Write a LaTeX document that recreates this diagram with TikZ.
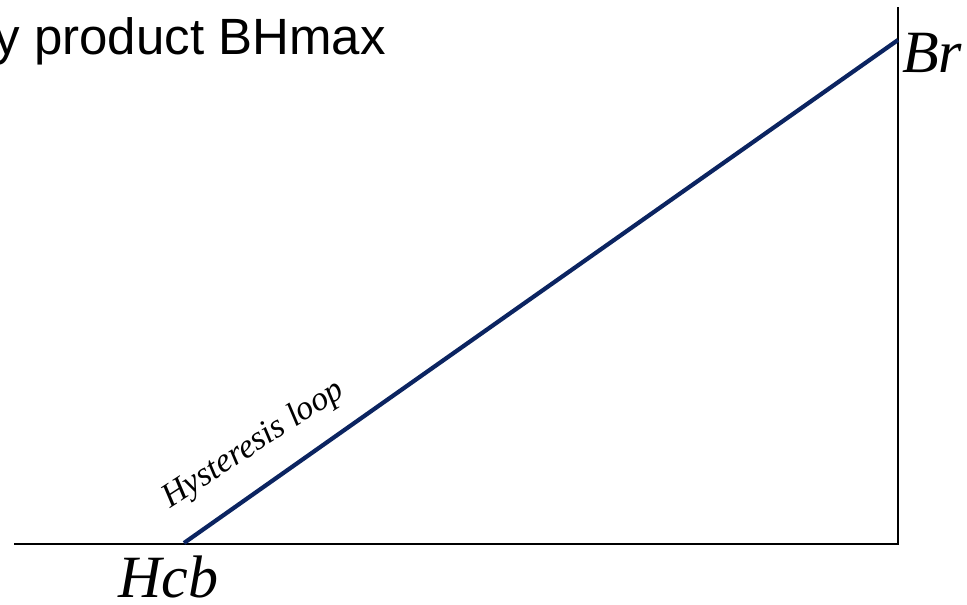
\documentclass[tikz,border=0pt]{standalone}
\usepackage{fontspec}
\setmainfont{Liberation Serif}
\newfontfamily\arialfont{Liberation Sans}
\definecolor{loopblue}{HTML}{0B2461}
\begin{document}
\begin{tikzpicture}[x=1pt,y=1pt,
  axisline/.style={draw=black,line width=1.6pt},
  curveline/.style={draw=loopblue,line width=4.2pt},
  titletext/.style={inner sep=0pt,font=\arialfont\fontsize{51}{60}\selectfont},
  pointlabel/.style={inner sep=0pt,font=\itshape\fontsize{60}{70}\selectfont},
  looplabel/.style={inner sep=0pt,font=\itshape\fontsize{34}{40}\selectfont}]
\useasboundingbox (0,0) rectangle (967,605);
\clip (0,0) rectangle (967,605);
\coordinate (O) at (14,61);
\coordinate (C) at (898,61);
\coordinate (T) at (898,598);
\coordinate (Hc) at (184,62);
\coordinate (Bpt) at (898,565);
\draw[axisline] (O) -- (C) -- (T);
\draw[curveline] (Hc) -- (Bpt);
\node[titletext,anchor=base east] (title) at (386,550) {y product BHmax};
\node[pointlabel,anchor=base west] (br) at (902,532) {Br};
\node[pointlabel,anchor=base west] (hcb) at (118,7) {Hcb};
\node[looplabel,anchor=base west,rotate=33] (loop) at (170,96) {Hysteresis loop};
\end{tikzpicture}
\end{document}
